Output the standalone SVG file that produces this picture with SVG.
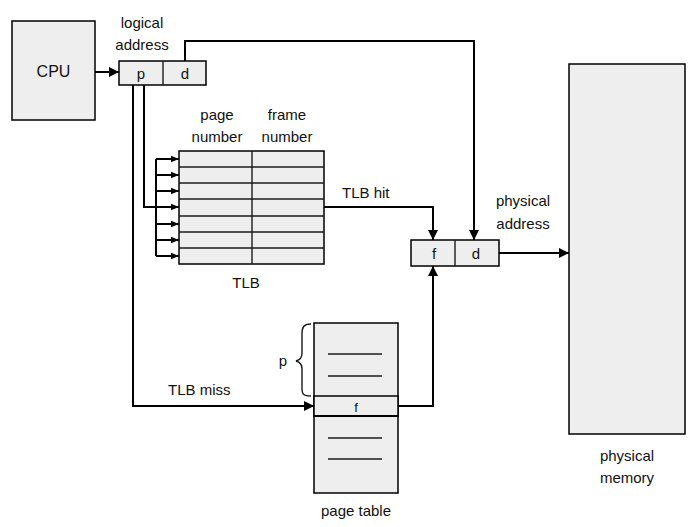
<svg xmlns="http://www.w3.org/2000/svg" width="693" height="527" viewBox="0 0 693 527">
<defs>
<marker id="ah" viewBox="0 0 10 10" refX="10" refY="5" markerWidth="10" markerHeight="10" markerUnits="userSpaceOnUse" orient="auto">
<path d="M0,0 L10,5 L0,10 z" fill="#000"/>
</marker>
<marker id="ahs" viewBox="0 0 10 10" refX="10" refY="5" markerWidth="8" markerHeight="8" markerUnits="userSpaceOnUse" orient="auto">
<path d="M0,1 L10,5 L0,9 z" fill="#000"/>
</marker>
</defs>
<style>
.box{fill:#eeeeee;stroke:#000;stroke-width:1.5}
.thin{stroke:#1a1a1a;stroke-width:1.4;fill:none}
.conn{stroke:#000;stroke-width:2;fill:none}
text{font-family:"Liberation Sans",Arial,sans-serif;font-size:15px;fill:#111}
.c{text-anchor:middle}
</style>
<rect width="693" height="527" fill="#fff"/>
<g id="cpu">
<rect class="box" x="12" y="21" width="83" height="99"/>
<text class="c" x="53.5" y="77" style="font-size:16px">CPU</text>
</g>
<g id="logical-address">
<rect class="box" x="119" y="61" width="87" height="24"/>
<line class="thin" x1="163" y1="61" x2="163" y2="85"/>
<text class="c" x="141" y="79">p</text>
<text class="c" x="185" y="79">d</text>
<text class="c" x="142" y="28">logical</text>
<text class="c" x="142" y="50">address</text>
</g>
<g id="tlb">
<rect class="box" x="179" y="151" width="145" height="113"/>
<line class="thin" x1="252" y1="151" x2="252" y2="264"/>
<g class="thin">
<line x1="179" y1="167" x2="324" y2="167"/>
<line x1="179" y1="183" x2="324" y2="183"/>
<line x1="179" y1="199" x2="324" y2="199"/>
<line x1="179" y1="216" x2="324" y2="216"/>
<line x1="179" y1="232" x2="324" y2="232"/>
<line x1="179" y1="248" x2="324" y2="248"/>
</g>
<text class="c" x="217" y="120">page</text>
<text class="c" x="217" y="142">number</text>
<text class="c" x="287" y="120">frame</text>
<text class="c" x="287" y="142">number</text>
<text class="c" x="246" y="288">TLB</text>
</g>
<g id="physical-address">
<rect class="box" x="411" y="240" width="88" height="26"/>
<line class="thin" x1="455" y1="240" x2="455" y2="266"/>
<text class="c" x="434" y="259">f</text>
<text class="c" x="476" y="259">d</text>
<text class="c" x="523" y="206">physical</text>
<text class="c" x="523" y="229">address</text>
</g>
<g id="physical-memory">
<rect class="box" x="569" y="64" width="116" height="370"/>
<text class="c" x="627" y="461">physical</text>
<text class="c" x="627" y="483">memory</text>
</g>
<g id="page-table">
<rect class="box" x="314" y="323" width="84" height="170"/>
<rect class="box" x="314" y="396" width="84" height="20"/>
<line x1="314" y1="416" x2="398" y2="416" stroke="#000" stroke-width="2"/>
<g class="thin">
<line x1="328" y1="354" x2="382" y2="354"/>
<line x1="328" y1="376" x2="382" y2="376"/>
<line x1="328" y1="438" x2="382" y2="438"/>
<line x1="328" y1="459" x2="382" y2="459"/>
</g>
<text class="c" x="356" y="412" style="font-size:13px">f</text>
<path class="thin" d="M311,324 C303,324 302,328 302,334 L302,353 C302,358 300,360 296,361 C300,362 302,364 302,369 L302,388 C302,394 303,396 311,396"/>
<text class="c" x="283" y="366">p</text>
<text class="c" x="356" y="516">page table</text>
</g>
<g id="connectors">
<path class="conn" d="M95,72 L119,72" marker-end="url(#ah)"/>
<path class="conn" d="M185,61 L185,41 L474,41 L474,240" marker-end="url(#ah)"/>
<path class="conn" d="M144,85 L144,207 L156,207"/>
<path class="conn" d="M156,159 L156,256"/>
<g class="conn">
<path d="M156,159 L179,159" marker-end="url(#ahs)"/>
<path d="M156,175 L179,175" marker-end="url(#ahs)"/>
<path d="M156,191 L179,191" marker-end="url(#ahs)"/>
<path d="M156,207 L179,207" marker-end="url(#ahs)"/>
<path d="M156,224 L179,224" marker-end="url(#ahs)"/>
<path d="M156,240 L179,240" marker-end="url(#ahs)"/>
<path d="M156,256 L179,256" marker-end="url(#ahs)"/>
</g>
<path class="conn" d="M324,207 L433,207 L433,240" marker-end="url(#ah)"/>
<path class="conn" d="M133,85 L133,406 L314,406" marker-end="url(#ah)"/>
<path class="conn" d="M398,406 L433,406 L433,266" marker-end="url(#ah)"/>
<path class="conn" d="M499,253 L569,253" marker-end="url(#ah)"/>
<text x="342" y="198">TLB hit</text>
<text x="168" y="395">TLB miss</text>
</g>
</svg>
